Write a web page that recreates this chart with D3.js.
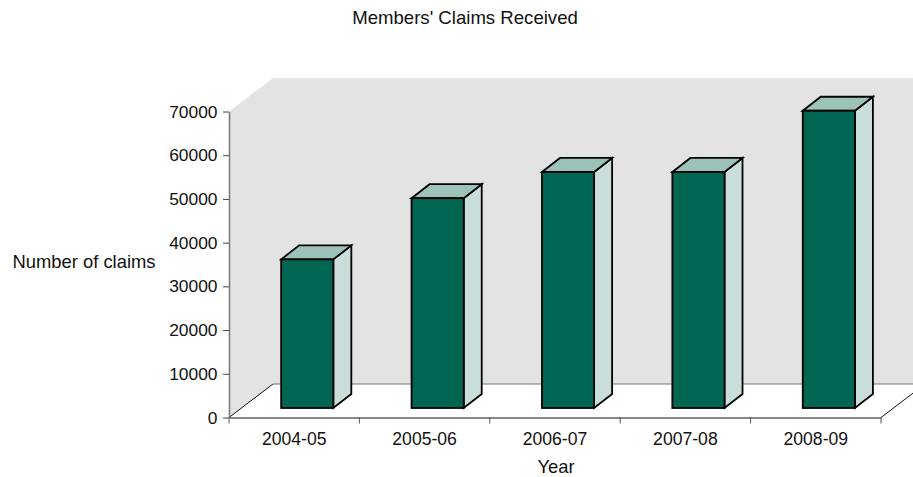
<!DOCTYPE html>
<html>
<head>
<meta charset="utf-8">
<script src="https://cdn.jsdelivr.net/npm/d3@7"></script>
<style>
  html, body { margin: 0; padding: 0; background: #fff; }
  svg { display: block; }
  text { font-family: "Liberation Sans", Arial, sans-serif; fill: #111; }
</style>
</head>
<body>
<svg id="chart" width="913" height="477"></svg>
<script>
const years = ['2004-05', '2005-06', '2006-07', '2007-08', '2008-09'];
const claims = [34000, 48000, 54000, 54000, 68000];
const yTicks = [0, 10000, 20000, 30000, 40000, 50000, 60000, 70000];

const chartW = 913;
const plotL = 229, plotR = 881, plotT = 111.5, plotB = 417.5;
// 3d offsets: wall depth and bar depth
const depthX = 44, depthY = 33.5;
const barDX = 18, barDY = 14;
const barShiftY = 9.5;

const svg = d3.select('#chart');

const x = d3.scaleBand().domain(years).range([plotL, plotR]);
const y = d3.scaleLinear().domain([0, 70000]).range([plotB, plotT]);

// back and left wall
svg.append('path')
  .attr('d', d3.line()([
    [plotL, plotT], [plotL + depthX, plotT - depthY], [chartW, plotT - depthY],
    [chartW, plotB - depthY], [plotL + depthX, plotB - depthY], [plotL, plotB]
  ]) + 'Z')
  .attr('fill', '#e3e3e3');

// floor edges
svg.append('line')
  .attr('x1', plotL + depthX).attr('x2', chartW)
  .attr('y1', plotB - depthY).attr('y2', plotB - depthY)
  .attr('stroke', '#777').attr('stroke-width', 1);
svg.append('line')
  .attr('x1', plotL).attr('y1', plotB)
  .attr('x2', plotL + depthX).attr('y2', plotB - depthY)
  .attr('stroke', '#111').attr('stroke-width', 1);
svg.append('line')
  .attr('x1', plotR).attr('y1', plotB)
  .attr('x2', plotR + depthX).attr('y2', plotB - depthY)
  .attr('stroke', '#111').attr('stroke-width', 1);

// bars
const bars = svg.selectAll('.bar')
  .data(years.map((d, i) => ({ year: d, value: claims[i] })))
  .join('g')
  .attr('class', 'bar')
  .attr('stroke', '#000')
  .attr('stroke-width', 1.8)
  .attr('stroke-linejoin', 'miter');

const bw = x.bandwidth();
const bx0 = d => x(d.year) + bw * 0.4;
const bx1 = d => x(d.year) + bw * 0.8;
const by0 = d => y(d.value) - barShiftY;
const by1 = () => plotB - barShiftY;

bars.append('path')
  .attr('fill', '#c9dedb')
  .attr('d', d => d3.line()([
    [bx1(d), by0(d)], [bx1(d) + barDX, by0(d) - barDY],
    [bx1(d) + barDX, by1() - barDY], [bx1(d), by1()]
  ]) + 'Z');

bars.append('path')
  .attr('fill', '#9cc2b9')
  .attr('d', d => d3.line()([
    [bx0(d), by0(d)], [bx0(d) + barDX, by0(d) - barDY],
    [bx1(d) + barDX, by0(d) - barDY], [bx1(d), by0(d)]
  ]) + 'Z');

bars.append('rect')
  .attr('fill', '#006651')
  .attr('x', bx0)
  .attr('y', by0)
  .attr('width', d => bx1(d) - bx0(d))
  .attr('height', d => by1() - by0(d));

// axes
const yAxis = svg.append('g')
  .attr('transform', `translate(${plotL},0)`)
  .call(d3.axisLeft(y).tickValues(yTicks).tickFormat(d3.format('d')).tickSize(6).tickSizeOuter(0));
yAxis.select('.domain').attr('stroke', '#777').attr('stroke-width', 1.5);
yAxis.selectAll('.tick line').attr('stroke', '#444');
yAxis.selectAll('.tick text')
  .attr('x', -11.5)
  .style('font-family', '"Liberation Sans", Arial, sans-serif')
  .style('font-size', '17.4px')
  .attr('fill', '#111');

const xAxis = svg.append('g')
  .attr('transform', `translate(0,${plotB})`)
  .call(d3.axisBottom(x).tickSize(0).tickSizeOuter(0));
xAxis.select('.domain').attr('stroke', '#111').attr('stroke-width', 1);
xAxis.selectAll('.tick text')
  .attr('y', 15)
  .style('font-family', '"Liberation Sans", Arial, sans-serif')
  .style('font-size', '17.6px')
  .attr('fill', '#111');

// the ticks sit on the band edges, not the centres
const edges = years.map(d => x(d)).concat([plotR]);
svg.selectAll('.edge')
  .data(edges)
  .join('line')
  .attr('class', 'edge')
  .attr('x1', d => d).attr('x2', d => d)
  .attr('y1', plotB).attr('y2', plotB + 6)
  .attr('stroke', '#555');

// titles
svg.append('text')
  .attr('x', 465).attr('y', 23.5)
  .attr('text-anchor', 'middle')
  .style('font-size', '18.6px')
  .text("Members' Claims Received");
svg.append('text')
  .attr('x', 84).attr('y', 268)
  .attr('text-anchor', 'middle')
  .style('font-size', '18.4px')
  .text('Number of claims');
svg.append('text')
  .attr('x', 556).attr('y', 472.5)
  .attr('text-anchor', 'middle')
  .style('font-size', '18.4px')
  .text('Year');
</script>
</body>
</html>
